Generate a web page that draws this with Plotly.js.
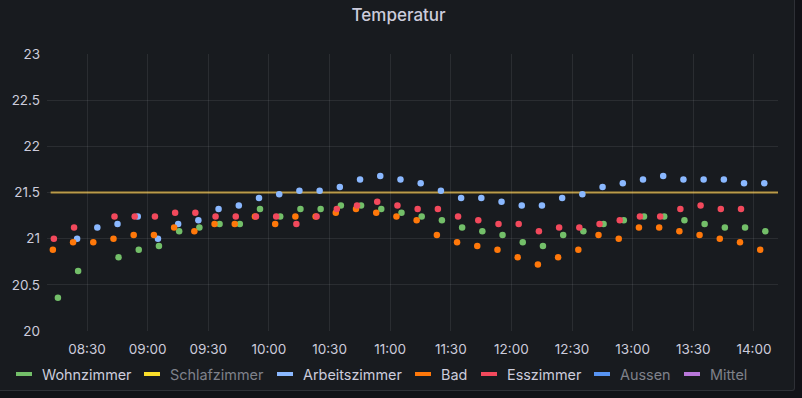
<!DOCTYPE html>
<html>
<head>
<meta charset="utf-8">
<script src="https://cdn.plot.ly/plotly-3.0.1.min.js"></script>
<style>
  html, body { margin:0; padding:0; background:#111217; width:802px; height:398px; overflow:hidden; }
  #panel { position:absolute; left:-10px; top:-10px; width:805px; height:401px; background:#181b1f;
           border:1px solid rgba(204,204,220,0.12); border-radius:3px; box-sizing:border-box; }
  #chart { position:absolute; left:0; top:0; width:802px; height:398px; }
</style>
</head>
<body>
<div id="panel"></div>
<div id="chart"></div>
<script>
const day = '2024-01-01 ';

const wohnzimmerTimes = ['08:15:36','08:25:36','08:45:36','08:55:36','09:05:36','09:15:36','09:25:36','09:35:36','09:45:36','09:55:36','10:05:36','10:15:36','10:25:36','10:35:36','10:45:36','10:55:36','11:05:36','11:15:36','11:25:36','11:35:36','11:45:36','11:55:36','12:05:36','12:15:36','12:25:36','12:35:36','12:45:36','12:55:36','13:05:36','13:15:36','13:25:36','13:35:36','13:45:36','13:55:36','14:05:36'];
const wohnzimmerValues = [20.36,20.65,20.8,20.88,20.92,21.08,21.12,21.16,21.16,21.32,21.24,21.32,21.32,21.36,21.36,21.32,21.28,21.24,21.2,21.12,21.08,21.04,20.96,20.92,21.04,21.08,21.16,21.2,21.24,21.24,21.2,21.16,21.12,21.12,21.08];

const arbeitszimmerTimes = ['08:25:06','08:35:06','08:45:06','08:55:06','09:05:06','09:15:06','09:25:06','09:35:06','09:45:06','09:55:06','10:05:06','10:15:06','10:25:06','10:35:06','10:45:06','10:55:06','11:05:06','11:15:06','11:25:06','11:35:06','11:45:06','11:55:06','12:05:06','12:15:06','12:25:06','12:35:06','12:45:06','12:55:06','13:05:06','13:15:06','13:25:06','13:35:06','13:45:06','13:55:06','14:05:06'];
const arbeitszimmerValues = [21.0,21.12,21.16,21.24,21.0,21.16,21.2,21.32,21.36,21.44,21.48,21.52,21.52,21.56,21.64,21.68,21.64,21.6,21.52,21.44,21.44,21.4,21.36,21.36,21.44,21.48,21.56,21.6,21.64,21.68,21.64,21.64,21.64,21.6,21.6];

const badTimes = ['08:13:06','08:23:06','08:33:06','08:43:06','08:53:06','09:03:06','09:13:06','09:23:06','09:33:06','09:43:06','09:53:06','10:03:06','10:13:06','10:23:06','10:33:06','10:43:06','10:53:06','11:03:06','11:13:06','11:23:06','11:33:06','11:43:06','11:53:06','12:03:06','12:13:06','12:23:06','12:33:06','12:43:06','12:53:06','13:03:06','13:13:06','13:23:06','13:33:06','13:43:06','13:53:06','14:03:06'];
const badValues = [20.88,20.96,20.96,21.0,21.04,21.04,21.12,21.08,21.16,21.16,21.24,21.16,21.24,21.24,21.28,21.32,21.28,21.24,21.2,21.04,20.96,20.92,20.88,20.8,20.72,20.8,20.88,21.04,21.0,21.12,21.12,21.08,21.04,21.0,20.96,20.88];

const esszimmerTimes = ['08:13:36','08:23:36','08:43:36','08:53:36','09:03:36','09:13:36','09:23:36','09:33:36','09:43:36','09:53:36','10:03:36','10:13:36','10:23:36','10:33:36','10:43:36','10:53:36','11:03:36','11:13:36','11:23:36','11:33:36','11:43:36','11:53:36','12:03:36','12:13:36','12:23:36','12:33:36','12:43:36','12:53:36','13:03:36','13:13:36','13:23:36','13:33:36','13:43:36','13:53:36'];
const esszimmerValues = [21.0,21.12,21.24,21.24,21.24,21.28,21.28,21.24,21.24,21.24,21.24,21.16,21.24,21.32,21.36,21.4,21.36,21.32,21.32,21.24,21.2,21.16,21.16,21.08,21.12,21.12,21.16,21.2,21.24,21.24,21.32,21.36,21.32,21.32];

const threshold = 21.5;
const xRange = ['08:10:12', '14:11:54'];
const yRange = [20, 23];

const legendNames  = ['Wohnzimmer','Schlafzimmer','Arbeitszimmer','Bad','Esszimmer','Aussen','Mittel'];
const legendColors = ['#73BF69','#FADE2A','#8AB8FF','#FF780A','#F2495C','#5794F2','#B877D9'];
const legendShown  = [true,false,true,true,true,false,false];

const series = [
  {name:'Wohnzimmer', t:wohnzimmerTimes, v:wohnzimmerValues, c:'#73BF69'},
  {name:'Arbeitszimmer', t:arbeitszimmerTimes, v:arbeitszimmerValues, c:'#8AB8FF'},
  {name:'Bad', t:badTimes, v:badValues, c:'#FF780A'},
  {name:'Esszimmer', t:esszimmerTimes, v:esszimmerValues, c:'#F2495C'}
];

const traces = series.map(s => ({
  type:'scatter', mode:'markers', name:s.name,
  x: s.t.map(t => day + t), y: s.v,
  marker:{color:s.c, size:6.5, line:{width:0}},
  showlegend:false, hoverinfo:'x+y+name'
}));

// geometry of plot area (pixels)
const W = 802, H = 398, L = 47, R = 24, T = 54, B = 67;
const pw = W - L - R, ph = H - T - B;
const px2x = p => (p - L) / pw;
const py2y = p => (H - B - p) / ph;

// legend layout (Grafana-like swatches); text start positions in pixels
const legendFontSize = 14.4;
const legendTextX = [42, 170, 303, 441, 507, 620, 710];
const ly = 374;
const annotations = [];
const shapes = [{
  type:'line', xref:'paper', yref:'y', x0:0.005, x1:1, y0:threshold, y1:threshold,
  line:{color:'#b8963c', width:2}, layer:'between'
}];
legendNames.forEach((n, i) => {
  const tx = legendTextX[i];
  shapes.push({type:'rect', xref:'paper', yref:'paper',
    x0:px2x(tx-26), x1:px2x(tx-10), y0:py2y(ly+2), y1:py2y(ly-2),
    fillcolor:legendColors[i], line:{width:0}, layer:'above'});
  annotations.push({text:n, xref:'paper', yref:'paper', x:px2x(tx-2), y:py2y(ly),
    xanchor:'left', yanchor:'middle', showarrow:false,
    font:{family:'Inter, sans-serif', size:legendFontSize, color: legendShown[i] ? '#ccccdc' : '#7f818a'}});
});

const layout = {
  width:W, height:H,
  margin:{l:L, r:R, t:T, b:B, pad:0},
  paper_bgcolor:'rgba(0,0,0,0)', plot_bgcolor:'rgba(0,0,0,0)',
  font:{family:'Inter, sans-serif', color:'#ccccdc', size:13},
  title:{text:'Temperatur', font:{family:'Inter, sans-serif', size:17, color:'#ccccdc', weight:500},
         x:0.497, xref:'container', y:1-15/398, yref:'container', yanchor:'middle'},
  xaxis:{type:'date', range:xRange.map(t=>day+t), dtick:1800000, tick0:day+'08:00:00',
         tickformat:'%H:%M', showgrid:true, gridcolor:'rgba(204,204,220,0.1)', gridwidth:1,
         zeroline:false, showline:false, ticks:'', ticklabelstandoff:8,
         tickfont:{size:13.5, color:'#ccccdc'}},
  yaxis:{range:yRange, dtick:0.5, showgrid:true, gridcolor:'rgba(204,204,220,0.1)', gridwidth:1,
         zeroline:false, showline:false, ticks:'', ticklabelstandoff:6,
         tickfont:{size:13.5, color:'#ccccdc'}},
  showlegend:false,
  shapes:shapes, annotations:annotations
};

Plotly.newPlot('chart', traces, layout, {staticPlot:true, displayModeBar:false});
</script>
</body>
</html>
